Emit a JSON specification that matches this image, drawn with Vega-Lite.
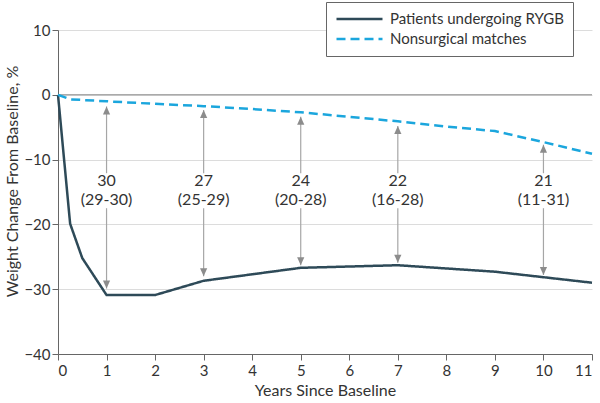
{
  "$schema": "https://vega.github.io/schema/vega-lite/v6.json",
  "autosize": {"type": "none"},
  "width": 534,
  "height": 324,
  "padding": {"left": 58, "top": 30, "right": 8, "bottom": 49},
  "background": "white",
  "config": {
    "font": "Lato",
    "view": {"stroke": null},
    "axis": {
      "labelFont": "Lato", "titleFont": "Lato",
      "labelFontSize": 15, "titleFontSize": 16,
      "labelColor": "#333", "titleColor": "#333",
      "titleFontWeight": "normal",
      "domainColor": "#666", "tickColor": "#666", "tickSize": 6,
      "gridColor": "#dcdcdc"
    }
  },
  "datasets": {
    "lines": [
      {"series": "Patients undergoing RYGB", "year": 0, "change": 0},
      {"series": "Patients undergoing RYGB", "year": 0.25, "change": -19.9},
      {"series": "Patients undergoing RYGB", "year": 0.5, "change": -25.2},
      {"series": "Patients undergoing RYGB", "year": 1, "change": -30.9},
      {"series": "Patients undergoing RYGB", "year": 2, "change": -30.9},
      {"series": "Patients undergoing RYGB", "year": 3, "change": -28.7},
      {"series": "Patients undergoing RYGB", "year": 5, "change": -26.7},
      {"series": "Patients undergoing RYGB", "year": 7, "change": -26.3},
      {"series": "Patients undergoing RYGB", "year": 9, "change": -27.3},
      {"series": "Patients undergoing RYGB", "year": 11, "change": -29.0},
      {"series": "Nonsurgical matches", "year": 0, "change": 0},
      {"series": "Nonsurgical matches", "year": 0.25, "change": -0.7},
      {"series": "Nonsurgical matches", "year": 1, "change": -1.0},
      {"series": "Nonsurgical matches", "year": 2, "change": -1.4},
      {"series": "Nonsurgical matches", "year": 3, "change": -1.75},
      {"series": "Nonsurgical matches", "year": 4, "change": -2.2},
      {"series": "Nonsurgical matches", "year": 5, "change": -2.7},
      {"series": "Nonsurgical matches", "year": 6, "change": -3.4},
      {"series": "Nonsurgical matches", "year": 7, "change": -4.1},
      {"series": "Nonsurgical matches", "year": 8, "change": -4.9},
      {"series": "Nonsurgical matches", "year": 9, "change": -5.6},
      {"series": "Nonsurgical matches", "year": 10, "change": -7.3},
      {"series": "Nonsurgical matches", "year": 11, "change": -9.1}
    ],
    "arrows": [
      {"year": 1, "top": -1.8, "bottom": -29.9, "gapTop": -12.1, "gapBottom": -17.5, "diffY": -13.3, "ciY": -16.2, "diff": "30", "ci": "(29-30)"},
      {"year": 3, "top": -2.35, "bottom": -28.0, "gapTop": -12.1, "gapBottom": -17.5, "diffY": -13.3, "ciY": -16.2, "diff": "27", "ci": "(25-29)"},
      {"year": 5, "top": -3.4, "bottom": -26.3, "gapTop": -12.1, "gapBottom": -17.5, "diffY": -13.3, "ciY": -16.2, "diff": "24", "ci": "(20-28)"},
      {"year": 7, "top": -4.8, "bottom": -25.9, "gapTop": -12.1, "gapBottom": -17.5, "diffY": -13.3, "ciY": -16.2, "diff": "22", "ci": "(16-28)"},
      {"year": 10, "top": -7.7, "bottom": -27.8, "gapTop": -12.1, "gapBottom": -17.5, "diffY": -13.3, "ciY": -16.2, "diff": "21", "ci": "(11-31)"}
    ]
  },
  "layer": [
    {
      "data": {"values": [{"v": 0}]},
      "mark": {"type": "rule", "color": "#aaaaaa", "strokeWidth": 1.5},
      "encoding": {"y": {"field": "v", "type": "quantitative"}}
    },
    {
      "data": {"name": "arrows"},
      "mark": {"type": "rule", "color": "#a6a6a6", "strokeWidth": 1.2},
      "encoding": {
        "x": {"field": "year", "type": "quantitative"},
        "y": {"field": "top", "type": "quantitative"},
        "y2": {"field": "gapTop"}
      }
    },
    {
      "data": {"name": "arrows"},
      "mark": {"type": "rule", "color": "#a6a6a6", "strokeWidth": 1.2},
      "encoding": {
        "x": {"field": "year", "type": "quantitative"},
        "y": {"field": "gapBottom", "type": "quantitative"},
        "y2": {"field": "bottom"}
      }
    },
    {
      "data": {"name": "arrows"},
      "mark": {"type": "point", "shape": "M0,0L-0.45,1L0.45,1Z", "filled": true, "color": "#8c8c8c", "opacity": 1, "size": 256},
      "encoding": {
        "x": {"field": "year", "type": "quantitative"},
        "y": {"field": "top", "type": "quantitative"}
      }
    },
    {
      "data": {"name": "arrows"},
      "mark": {"type": "point", "shape": "M0,0L-0.45,-1L0.45,-1Z", "filled": true, "color": "#8c8c8c", "opacity": 1, "size": 256},
      "encoding": {
        "x": {"field": "year", "type": "quantitative"},
        "y": {"field": "bottom", "type": "quantitative"}
      }
    },
    {
      "data": {"name": "arrows"},
      "mark": {"type": "text", "fontSize": 16, "color": "#333", "baseline": "middle", "align": "center"},
      "encoding": {
        "x": {"field": "year", "type": "quantitative"},
        "y": {"field": "diffY", "type": "quantitative"},
        "text": {"field": "diff"}
      }
    },
    {
      "data": {"name": "arrows"},
      "mark": {"type": "text", "fontSize": 16, "color": "#333", "baseline": "middle", "align": "center"},
      "encoding": {
        "x": {"field": "year", "type": "quantitative"},
        "y": {"field": "ciY", "type": "quantitative"},
        "text": {"field": "ci"}
      }
    },
    {
      "data": {"name": "lines"},
      "mark": {"type": "line", "strokeWidth": 2.5},
      "encoding": {
        "x": {
          "field": "year", "type": "quantitative",
          "scale": {"domain": [0, 11], "nice": false},
          "axis": {"values": [0,1,2,3,4,5,6,7,8,9,10,11], "title": "Years Since Baseline", "grid": false, "labelPadding": 3, "titleX": 267, "titleY": 36, "titleBaseline": "middle", "titleAlign": "center"}
        },
        "y": {
          "field": "change", "type": "quantitative",
          "scale": {"domain": [-40, 10], "nice": false},
          "axis": {"values": [-40,-30,-20,-10,0,10], "title": "Weight Change From Baseline, %", "grid": true, "labelPadding": 2, "titleX": -46, "titleY": 151, "titleBaseline": "middle", "titleAlign": "center", "titleAngle": -90}
        },
        "color": {
          "field": "series", "type": "nominal",
          "scale": {"domain": ["Patients undergoing RYGB", "Nonsurgical matches"], "range": ["#2e4a58", "#1ba6dd"]},
          "legend": {
            "title": null, "orient": "none", "legendX": 268, "legendY": -28,
            "symbolType": "stroke", "symbolSize": 2116, "symbolStrokeWidth": 2.5,
            "labelFontSize": 15, "labelColor": "#333", "labelFont": "Lato", "labelOffset": 6,
            "strokeColor": "#666", "fillColor": "white", "padding": 9,
            "rowPadding": 4, "clipHeight": 16, "labelLimit": 300
          }
        },
        "strokeDash": {
          "field": "series", "type": "nominal",
          "scale": {"domain": ["Patients undergoing RYGB", "Nonsurgical matches"], "range": [[1, 0], [9, 5]]},
          "legend": null
        }
      }
    }
  ]
}
